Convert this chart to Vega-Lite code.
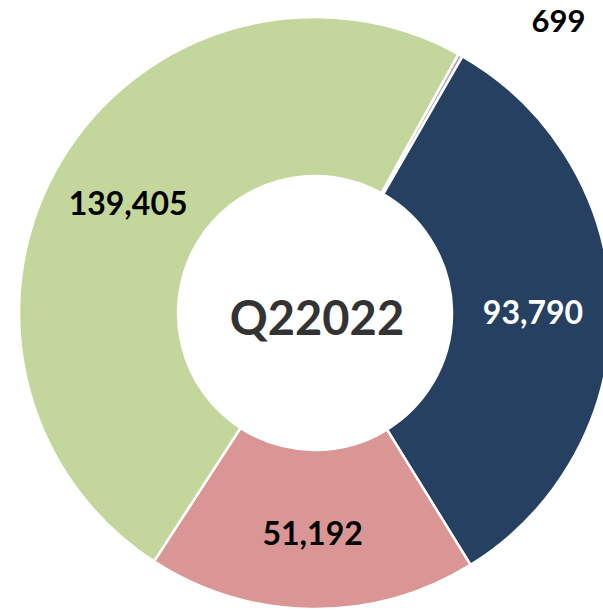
{
  "$schema": "https://vega.github.io/schema/vega-lite/v6.json",
  "width": 576,
  "height": 594,
  "autosize": "none",
  "padding": {"left": 27, "top": 16, "right": 0, "bottom": 0},
  "background": "white",
  "view": {"stroke": null},
  "layer": [
    {
      "data": {"name": "slices", "values": [
        {"seg": "A", "value": 699, "ord": 1},
        {"seg": "B", "value": 93790, "ord": 2},
        {"seg": "C", "value": 51192, "ord": 3},
        {"seg": "D", "value": 139405, "ord": 4}
      ]},
      "layer": [
        {
          "mark": {"type": "arc", "innerRadius": 137, "outerRadius": 296, "stroke": "white", "strokeWidth": 2.5},
          "encoding": {
            "theta": {"field": "value", "type": "quantitative", "stack": true, "scale": {"range": [0.506, 6.789]}},
            "order": {"field": "ord", "type": "quantitative"},
            "color": {"field": "seg", "type": "nominal", "scale": {"domain": ["A", "B", "C", "D"], "range": ["#b3a2c7", "#254061", "#d99694", "#c3d69b"]}, "legend": null}
          }
        },
        {
          "mark": {"type": "text", "radius": 218, "dy": 4, "font": "Lato", "fontWeight": "bold", "fontSize": 32, "align": "center", "baseline": "middle"},
          "encoding": {
            "theta": {"field": "value", "type": "quantitative", "stack": true},
            "order": {"field": "ord", "type": "quantitative"},
            "text": {"field": "value", "type": "quantitative", "format": ","},
            "color": {"condition": {"test": "datum.seg === 'B'", "value": "#ffffff"}, "value": "#000000"},
            "opacity": {"condition": {"test": "datum.seg === 'A'", "value": 0}, "value": 1}
          }
        },
        {
          "mark": {"type": "text", "radius": 300, "dx": 96, "dy": -29, "font": "Lato", "fontWeight": "bold", "fontSize": 31, "align": "center", "baseline": "middle", "color": "#000000"},
          "encoding": {
            "theta": {"field": "value", "type": "quantitative", "stack": true},
            "order": {"field": "ord", "type": "quantitative"},
            "text": {"field": "value", "type": "quantitative", "format": ","},
            "opacity": {"condition": {"test": "datum.seg === 'A'", "value": 1}, "value": 0}
          }
        }
      ]
    },
    {
      "data": {"values": [{"t": "Q22022"}]},
      "mark": {"type": "text", "font": "Lato", "fontWeight": "bold", "fontSize": 47, "align": "center", "baseline": "middle", "color": "#333333", "dy": 8, "dx": 2},
      "encoding": {
        "text": {"field": "t", "type": "nominal"}
      }
    }
  ]
}
